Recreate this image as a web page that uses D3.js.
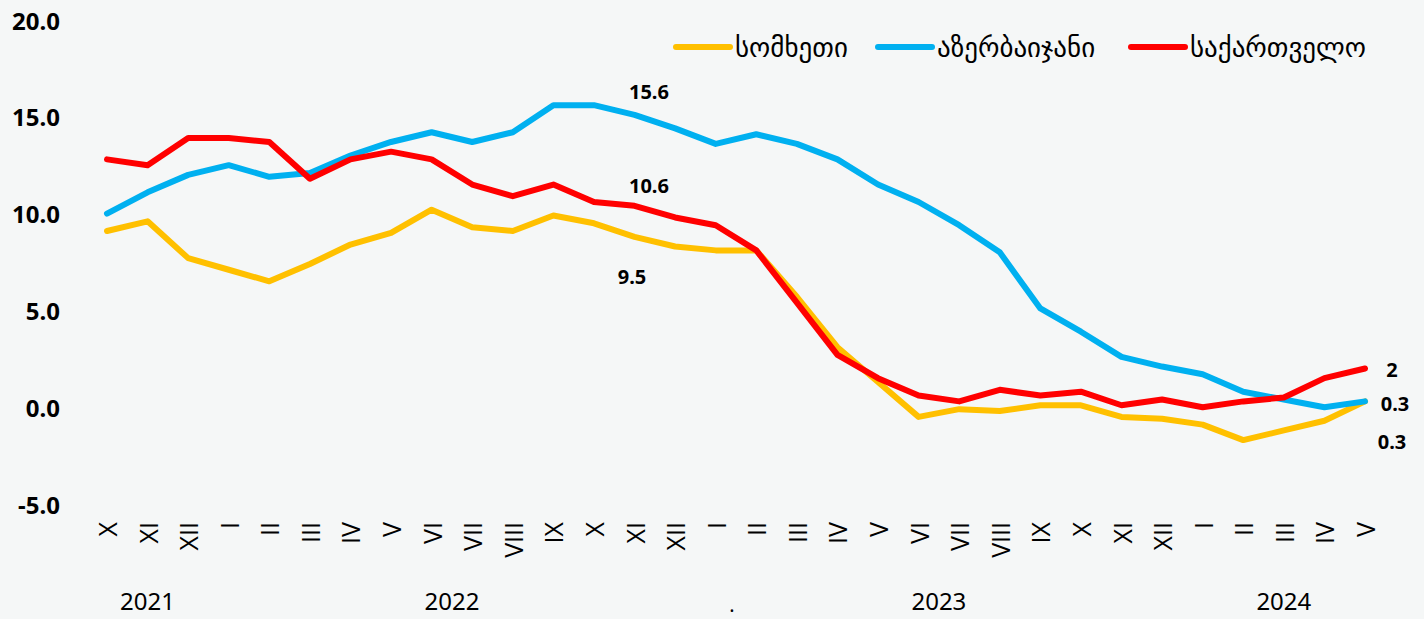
<!DOCTYPE html>
<html>
<head>
<meta charset="utf-8">
<script src="https://cdn.jsdelivr.net/npm/d3@7"></script>
<style>
  html, body { margin: 0; padding: 0; background: #f5f7f7; }
  svg { display: block; font-family: 'Noto Sans', 'DejaVu Sans', sans-serif; }
</style>
</head>
<body>
<svg id="chart" width="1424" height="619"></svg>
<script>
// months X.2021 - V.2024
const months = ['X','XI','XII','I','II','III','IV','V','VI','VII','VIII','IX','X','XI','XII',
  'I','II','III','IV','V','VI','VII','VIII','IX','X','XI','XII','I','II','III','IV','V'];

// year labels, placed by month index
const years = [['2021', 1], ['2022', 8.5], ['2023', 20.5], ['2024', 29]];

const seriesNames = ['სომხეთი', 'აზერბაიჯანი', 'საქართველო'];
const seriesColors = ['#ffc000', '#00b0f0', '#ff0000'];

const armenia = [9.1, 9.6, 7.7, 7.1, 6.5, 7.4, 8.4, 9.0, 10.2, 9.3, 9.1, 9.9, 9.5, 8.8, 8.3, 8.1,
  8.1, 5.7, 3.1, 1.3, -0.5, -0.1, -0.2, 0.1, 0.1, -0.5, -0.6, -0.9, -1.7, -1.2, -0.7, 0.3];
const azerbaijan = [10.0, 11.1, 12.0, 12.5, 11.9, 12.1, 13.0, 13.7, 14.2, 13.7, 14.2, 15.6, 15.6, 15.1, 14.4, 13.6,
  14.1, 13.6, 12.8, 11.5, 10.6, 9.4, 8.0, 5.1, 3.9, 2.6, 2.1, 1.7, 0.8, 0.4, 0.0, 0.3];
const georgia = [12.8, 12.5, 13.9, 13.9, 13.7, 11.8, 12.8, 13.2, 12.8, 11.5, 10.9, 11.5, 10.6, 10.4, 9.8, 9.4,
  8.1, 5.4, 2.7, 1.5, 0.6, 0.3, 0.9, 0.6, 0.8, 0.1, 0.4, 0.0, 0.3, 0.5, 1.5, 2.0];

const yTicks = [-5, 0, 5, 10, 15, 20];

// value labels: [text, series index, month index, dx, dy]
const valueLabels = [
  ['15.6', 1, 12, 55, -14],
  ['10.6', 2, 12, 55, -16],
  ['9.5', 0, 12, 38, 53],
  ['2', 2, 31, 27, 1],
  ['0.3', 1, 31, 30, 2],
  ['0.3', 0, 31, 27, 40]
];

const svg = d3.select('#chart');
const width = 1424, height = 619;

svg.append('rect').attr('width', width).attr('height', height).attr('fill', '#f5f7f7');

const x = d3.scalePoint(d3.range(months.length), [107, 1365]);
const y = d3.scaleLinear([-5, 20], [504, 20]);

// y axis labels (plain hyphen for minus)
svg.append('g')
  .selectAll('text')
  .data(yTicks)
  .join('text')
    .attr('x', 60)
    .attr('y', d => y(d))
    .attr('text-anchor', 'end')
    .attr('dominant-baseline', 'central')
    .attr('font-size', 24)
    .attr('font-weight', 700)
    .attr('fill', '#000')
    .text(d => d.toFixed(1));

// month labels, rotated
svg.append('g')
  .selectAll('text')
  .data(months)
  .join('text')
    .attr('transform', (d, i) => `translate(${x(i)},522) rotate(-90)`)
    .attr('text-anchor', 'end')
    .attr('dominant-baseline', 'central')
    .attr('font-family', "'Open Sans', 'Noto Sans', sans-serif")
    .attr('font-size', 25)
    .attr('fill', '#000')
    .text(d => d);

// year labels
const step = x.step();
svg.append('g')
  .selectAll('text')
  .data(years)
  .join('text')
    .attr('x', d => x(0) + d[1] * step)
    .attr('y', 604)
    .attr('text-anchor', 'middle')
    .attr('dominant-baseline', 'middle')
    .attr('font-size', 24)
    .attr('fill', '#000')
    .text(d => d[0]);

svg.append('text')
  .attr('x', x(0) + 15.4 * step)
  .attr('y', 612)
  .attr('text-anchor', 'middle')
  .attr('font-size', 20)
  .text('.');

// lines
const allSeries = [armenia, azerbaijan, georgia];
const line = d3.line()
  .x((d, i) => x(i))
  .y(d => y(d));

svg.append('g')
  .selectAll('path')
  .data(allSeries)
  .join('path')
    .attr('fill', 'none')
    .attr('stroke', (d, i) => seriesColors[i])
    .attr('stroke-width', 6)
    .attr('stroke-linejoin', 'round')
    .attr('stroke-linecap', 'round')
    .attr('d', line);

// value labels
svg.append('g')
  .selectAll('text')
  .data(valueLabels)
  .join('text')
    .attr('x', d => x(d[2]) + d[3])
    .attr('y', d => y(allSeries[d[1]][d[2]]) + d[4])
    .attr('text-anchor', 'middle')
    .attr('dominant-baseline', 'central')
    .attr('font-size', 20)
    .attr('font-weight', 700)
    .attr('fill', '#000')
    .text(d => d[0]);

// legend
const legendX = [676, 878, 1131];
const legend = svg.append('g')
  .selectAll('g')
  .data(seriesNames)
  .join('g')
    .attr('transform', (d, i) => `translate(${legendX[i]},47)`);
legend.append('line')
  .attr('x1', 0).attr('x2', 54)
  .attr('stroke', (d, i) => seriesColors[i])
  .attr('stroke-width', 6)
  .attr('stroke-linecap', 'round');
legend.append('text')
  .attr('x', 59)
  .attr('dominant-baseline', 'central')
  .attr('font-family', "'DejaVu Sans', sans-serif")
  .attr('font-size', 27)
  .attr('fill', '#000')
  .text(d => d);
</script>
</body>
</html>
